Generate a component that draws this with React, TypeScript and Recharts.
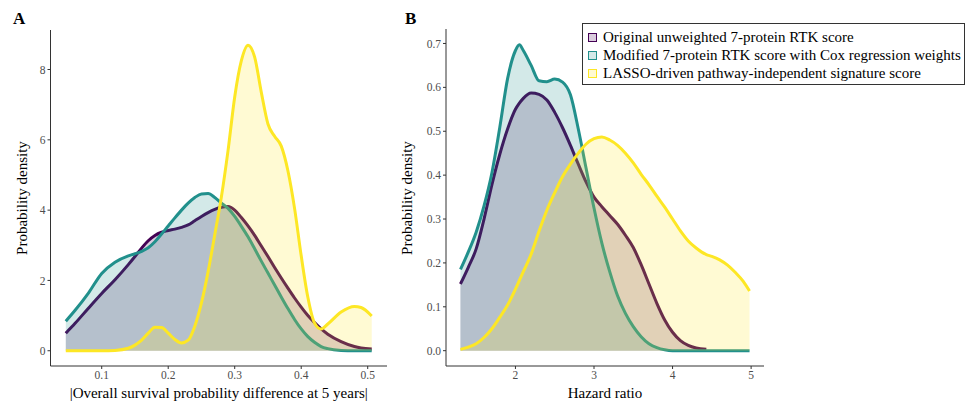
import React from 'react';
import { AreaChart, Area, XAxis, YAxis, Legend, Label } from 'recharts';

const FONT = '"Liberation Serif", "Times New Roman", Times, serif';

// ---------- Panel A: |Overall survival probability difference at 5 years| ----------
const xA = [0.046, 0.06, 0.08, 0.10, 0.12, 0.14, 0.15, 0.16, 0.17, 0.18, 0.19, 0.20, 0.21, 0.22, 0.23, 0.24, 0.25, 0.26, 0.27, 0.28, 0.29, 0.30, 0.31, 0.32, 0.33, 0.34, 0.35, 0.36, 0.37, 0.38, 0.39, 0.40, 0.41, 0.42, 0.43, 0.44, 0.46, 0.48, 0.49, 0.506];
const origA = [0.50, 0.78, 1.21, 1.63, 2.02, 2.45, 2.68, 2.92, 3.13, 3.28, 3.37, 3.42, 3.46, 3.51, 3.58, 3.70, 3.82, 3.93, 4.02, 4.08, 4.10, 4.00, 3.79, 3.55, 3.28, 2.98, 2.68, 2.37, 2.07, 1.78, 1.50, 1.24, 1.00, 0.80, 0.62, 0.47, 0.26, 0.12, 0.08, 0.05];
const modA = [0.84, 1.15, 1.64, 2.20, 2.52, 2.70, 2.76, 2.83, 2.93, 3.10, 3.32, 3.55, 3.78, 4.00, 4.20, 4.36, 4.46, 4.47, 4.36, 4.20, 4.05, 3.82, 3.54, 3.24, 2.90, 2.55, 2.21, 1.87, 1.53, 1.20, 0.89, 0.62, 0.40, 0.24, 0.12, 0.06, 0.01, 0.0, 0.0, 0.0];
const lassoA = [0, 0, 0, 0, 0.01, 0.07, 0.16, 0.30, 0.50, 0.67, 0.66, 0.50, 0.32, 0.22, 0.30, 0.70, 1.36, 2.25, 3.30, 4.38, 5.70, 7.22, 8.25, 8.69, 8.35, 7.35, 6.45, 6.10, 5.82, 5.12, 4.05, 2.70, 1.52, 0.79, 0.62, 0.76, 1.10, 1.26, 1.23, 0.99];
const xTicksA = [0.1, 0.2, 0.3, 0.4, 0.5];
const yTicksA = [0, 2, 4, 6, 8];

// ---------- Panel B: Hazard ratio ----------
const xB = [1.3, 1.4, 1.5, 1.6, 1.7, 1.8, 1.9, 2.0, 2.05, 2.1, 2.2, 2.3, 2.4, 2.5, 2.6, 2.7, 2.8, 2.9, 3.0, 3.1, 3.2, 3.3, 3.4, 3.5, 3.6, 3.7, 3.8, 3.9, 4.0, 4.1, 4.2, 4.3, 4.43, 4.5, 4.6, 4.7, 4.8, 4.9, 4.98];
const origB = [0.152, 0.19, 0.232, 0.30, 0.378, 0.447, 0.505, 0.550, 0.564, 0.575, 0.587, 0.584, 0.571, 0.543, 0.508, 0.468, 0.425, 0.384, 0.350, 0.328, 0.308, 0.288, 0.263, 0.235, 0.196, 0.152, 0.108, 0.070, 0.042, 0.023, 0.012, 0.006, 0.003, null, null, null, null, null, null];
const modB = [0.185, 0.225, 0.27, 0.33, 0.405, 0.508, 0.620, 0.684, 0.697, 0.684, 0.650, 0.615, 0.613, 0.619, 0.612, 0.583, 0.505, 0.415, 0.325, 0.245, 0.180, 0.125, 0.085, 0.055, 0.032, 0.016, 0.007, 0.002, 0, 0, 0, 0, 0, 0, 0, 0, 0, 0, 0];
const lassoB = [0.003, 0.008, 0.016, 0.03, 0.05, 0.076, 0.104, 0.14, 0.16, 0.18, 0.22, 0.272, 0.32, 0.36, 0.397, 0.425, 0.45, 0.471, 0.483, 0.487, 0.48, 0.468, 0.45, 0.428, 0.402, 0.378, 0.352, 0.327, 0.30, 0.273, 0.25, 0.234, 0.219, 0.215, 0.207, 0.195, 0.178, 0.158, 0.136];
const xTicksB = [2, 3, 4, 5];
const yTicksB = [0, 0.1, 0.2, 0.3, 0.4, 0.5, 0.6, 0.7];

const SERIES = [
  { key: 'orig', name: 'Original unweighted 7-protein RTK score', color: '#440154' },
  { key: 'mod', name: 'Modified 7-protein RTK score with Cox regression weights', color: '#21908C' },
  { key: 'lasso', name: 'LASSO-driven pathway-independent signature score', color: '#FDE725' },
];

const dataA = xA.map((x, i) => ({ x, orig: origA[i], mod: modA[i], lasso: lassoA[i] }));
const dataB = xB.map((x, i) => ({ x, orig: origB[i], mod: modB[i], lasso: lassoB[i] }));

const tickStyle = { fontSize: 11.5, fill: '#4d4d4d', fontFamily: FONT };
const axisLine = { stroke: '#333', strokeWidth: 1 };

const yTitle = (bx: number, cy: number) => () => (
  <text x={bx} y={cy} transform={`rotate(-90, ${bx}, ${cy})`} textAnchor="middle" fontSize={15} fontFamily={FONT} fill="#000">
    Probability density
  </text>
);
const xTitle = (text: string, cx: number) => () => (
  <text x={cx} y={398} textAnchor="middle" fontSize={15} fontFamily={FONT} fill="#000">
    {text}
  </text>
);

const hexA = (c: string, a: number) => {
  const r = parseInt(c.slice(1, 3), 16), g = parseInt(c.slice(3, 5), 16), b = parseInt(c.slice(5, 7), 16);
  return `rgba(${r},${g},${b},${a})`;
};

const renderLegend = () => (
  <div style={{ width: 383, height: 62, boxSizing: 'border-box', border: '1.3px solid #333', background: '#fff', paddingTop: 4, fontFamily: FONT, fontSize: 15, color: '#000' }}>
    {SERIES.map((s) => (
      <div key={s.key} style={{ display: 'flex', alignItems: 'center', height: 18, whiteSpace: 'nowrap' }}>
        <span style={{ display: 'inline-block', boxSizing: 'border-box', width: 9, height: 9, border: `1.6px solid ${s.color}`, background: hexA(s.color, 0.2), marginLeft: 5, marginRight: 6 }} />
        <span>{s.name}</span>
      </div>
    ))}
  </div>
);

const areas = () =>
  SERIES.map((s) => (
    <Area
      key={s.key}
      type="monotone"
      dataKey={s.key}
      name={s.name}
      stroke={s.color}
      strokeWidth={3}
      fill={s.color}
      fillOpacity={0.2}
      dot={false}
      activeDot={false}
      isAnimationActive={false}
    />
  ));

export default function App() {
  return (
    <div style={{ position: 'absolute', left: 0, top: 0, width: 966, height: 403, background: '#fff', fontFamily: FONT, overflow: 'hidden' }}>
      <div style={{ position: 'absolute', left: 13, top: 10, fontSize: 17, fontWeight: 'bold', lineHeight: '17px' }}>A</div>
      <div style={{ position: 'absolute', left: 405, top: 10, fontSize: 17, fontWeight: 'bold', lineHeight: '17px' }}>B</div>

      <div style={{ position: 'absolute', left: 0, top: 0 }}>
        <AreaChart width={400} height={403} data={dataA} margin={{ top: 30, right: 13, bottom: 0, left: 0 }}>
          <XAxis dataKey="x" type="number" domain={[0.023, 0.529]} allowDataOverflow ticks={xTicksA} tickFormatter={(v: number) => v.toFixed(1)} height={37} tickSize={3} tickMargin={2} axisLine={axisLine} tickLine={axisLine} tick={tickStyle}>
            <Label content={xTitle('|Overall survival probability difference at 5 years|', 218.7)} />
          </XAxis>
          <YAxis type="number" domain={[-0.434, 9.124]} allowDataOverflow ticks={yTicksA} width={50.5} tickSize={3} tickMargin={2} axisLine={axisLine} tickLine={axisLine} tick={tickStyle}>
            <Label content={yTitle(26.5, 198)} />
          </YAxis>
          {areas()}
        </AreaChart>
      </div>

      <div style={{ position: 'absolute', left: 380, top: 0 }}>
        <AreaChart width={586} height={403} data={dataB} margin={{ top: 29, right: 202, bottom: 0, left: 0 }}>
          <XAxis dataKey="x" type="number" domain={[1.116, 5.164]} allowDataOverflow ticks={xTicksB} height={37} tickSize={3} tickMargin={2} axisLine={axisLine} tickLine={axisLine} tick={tickStyle}>
            <Label content={xTitle('Hazard ratio', 225)} />
          </XAxis>
          <YAxis type="number" domain={[-0.0349, 0.733]} allowDataOverflow ticks={yTicksB} tickFormatter={(v: number) => v.toFixed(1)} width={66} tickSize={3} tickMargin={2} axisLine={axisLine} tickLine={axisLine} tick={tickStyle}>
            <Label content={yTitle(31.5, 198)} />
          </YAxis>
          {areas()}
          <Legend layout="horizontal" verticalAlign="middle" align="center" content={renderLegend} wrapperStyle={{ position: 'absolute', left: 202, top: 23, width: 383, height: 62 }} />
        </AreaChart>
      </div>
    </div>
  );
}
